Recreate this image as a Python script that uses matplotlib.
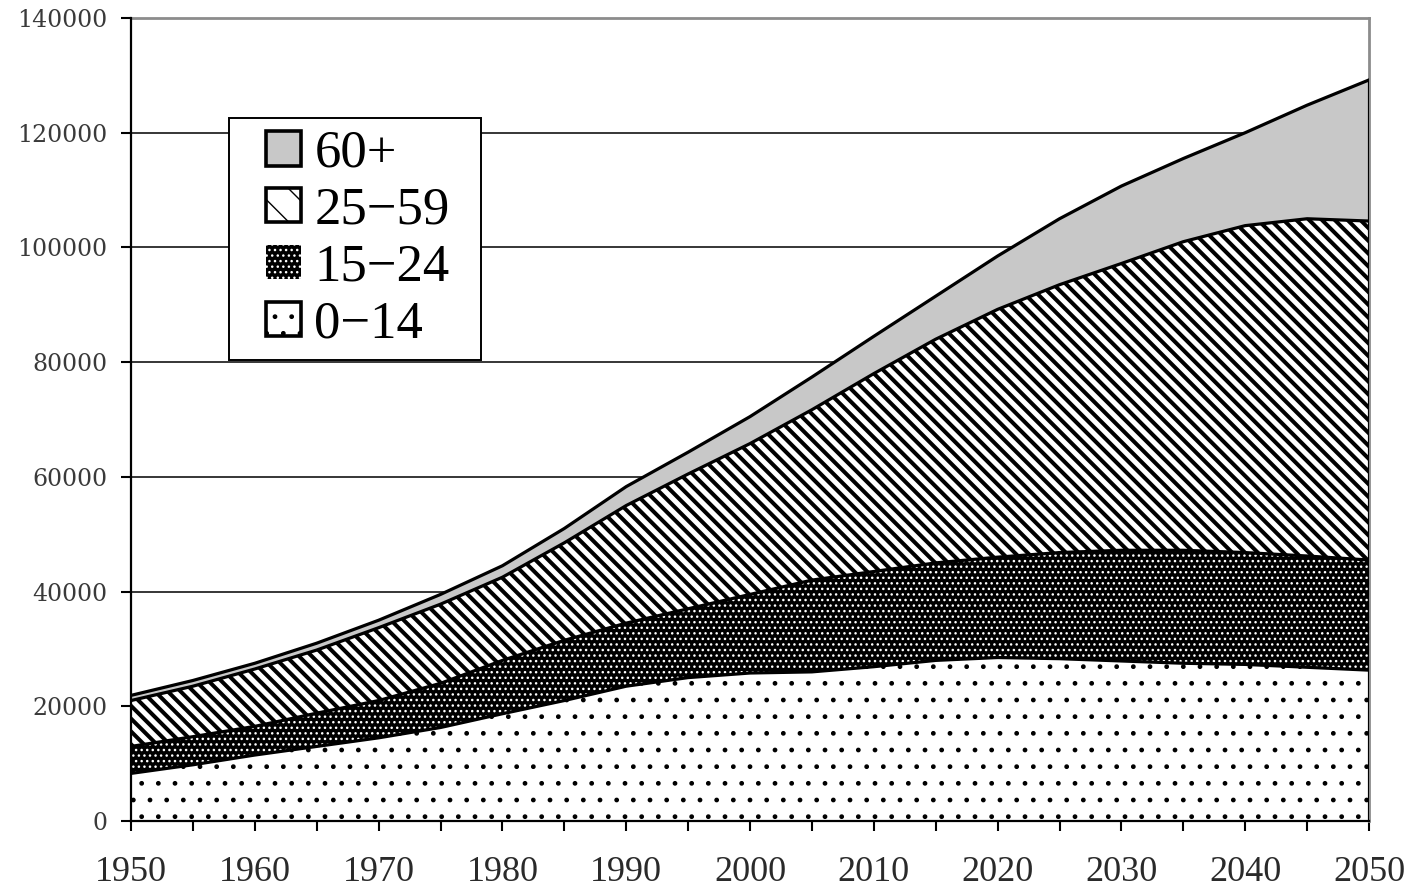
import matplotlib
matplotlib.use("Agg")
import matplotlib.pyplot as plt
from matplotlib.patches import Patch, Rectangle
from matplotlib.legend_handler import HandlerPatch
from matplotlib.collections import LineCollection
import numpy as np

# population by age group (thousands)
years = list(range(1950, 2051, 5))
age_0_14 = [8300, 9800, 11500, 13000, 14500, 16300, 18700, 21000, 23500, 25000, 25800,
            26000, 26900, 28000, 28500, 28300, 27900, 27500, 27300, 26800, 26300]
age_15_24 = [4700, 4900, 5000, 5800, 6500, 7700, 9300, 10500, 11000, 12000, 13700,
             16000, 16600, 17000, 17500, 18500, 19300, 19700, 19500, 19400, 19200]
age_25_59 = [8000, 8800, 10000, 11000, 12700, 13800, 14500, 17000, 20500, 23500, 26300,
             29700, 34500, 39000, 43200, 46700, 50000, 53800, 57000, 58800, 59100]
age_60 = [900, 1000, 1000, 1200, 1300, 1700, 2000, 2500, 3300, 3800, 4700,
          5700, 6500, 7500, 9300, 11500, 13500, 14500, 16200, 19800, 24600]
labels = ["0\u221214", "15\u221224", "25\u221259", "60+"]

yticks = list(range(0, 140001, 20000))
xticks = list(range(1950, 2051, 10))

styles = [dict(facecolor="white", edgecolor="black", hatch="."),
          dict(facecolor="black", edgecolor="white", hatch="..."),
          dict(facecolor="white", edgecolor="black", hatch="\\"),
          dict(facecolor="#c8c8c8", edgecolor="#c8c8c8", hatch=None)]

W, H = 1413, 889
fig = plt.figure(figsize=(W / 100, H / 100), dpi=100)
ax = fig.add_axes([131 / W, 1 - 821 / H, (1369 - 131) / W, (821 - 18) / H])

groups = np.array([age_0_14, age_15_24, age_25_59, age_60], dtype=float)
cum = np.cumsum(groups, axis=0)
lower = np.zeros(len(years))
fills = []
for i in range(4):
    st = dict(styles[i])
    if i == 2:
        st["hatch"] = None  # stripes drawn by hand below
    fills.append(ax.fill_between(years, lower, cum[i], lw=0, zorder=2, **st))
    lower = cum[i]

# thick diagonal stripes for 25-59, clipped to its area
bb = ax.get_window_extent()
pw, ph = bb.width, bb.height
step = 12.8 / pw
run = ph / pw
segs = [[(c, 1), (c + run, 0)] for c in np.arange(-run, 1 + step, step)]
stripes = LineCollection(segs, transform=ax.transAxes, colors="black", lw=2.9, zorder=2.5)
stripes.set_clip_path(fills[2].get_paths()[0], ax.transData)
ax.add_collection(stripes)

for i in range(4):
    ax.plot(years, cum[i], color="black", lw=2.3, zorder=3, solid_joinstyle="round")
ax.vlines(years[-1], 0, cum[-1][-1], color="black", lw=2.3, zorder=3)

ax.set_xlim(1950, 2050)
ax.set_ylim(0, 140000)
ax.set_yticks(yticks)
ax.set_yticklabels([str(v) for v in yticks])
ax.set_xticks(xticks)
ax.set_xticks(years, minor=True)

ax.yaxis.grid(True, color="black", lw=1.1)
ax.set_axisbelow(True)

for s in ["left", "bottom"]:
    ax.spines[s].set_color("black")
    ax.spines[s].set_linewidth(1.6)
    ax.spines[s].set_zorder(4)
for s in ["top", "right"]:
    ax.spines[s].set_color("#8c8c8c")
    ax.spines[s].set_linewidth(2)

ax.tick_params(axis="y", direction="out", length=7, width=1.5, pad=10,
               labelsize=17, labelcolor="#3a3a3a")
ax.tick_params(axis="x", which="both", direction="out", length=7, width=1.5)
ax.tick_params(axis="x", which="major", pad=18, labelsize=26, labelcolor="#2a2a2a")
for t in ax.get_yticklabels():
    t.set_fontfamily("DejaVu Serif")
for t in ax.get_xticklabels():
    t.set_fontfamily("Liberation Serif")


def square(legend, orig_handle, xdescent, ydescent, width, height, fontsize):
    return Rectangle((-xdescent + width - height, -ydescent), height, height)


handles = []
for i in range(4):
    st = dict(styles[i])
    if i == 3:
        st["edgecolor"] = "black"
    handles.append(Patch(lw=0 if i == 1 else 2.6, **st))
lx = (229 - 131) / 1238
ly = (821 - 118) / 803
lw_ = (481 - 229) / 1238
leg = ax.legend(handles[::-1], labels[::-1], loc="upper left",
                bbox_to_anchor=(lx, ly - 0.3, lw_, 0.3), mode="expand",
                borderaxespad=0, prop={"family": "Liberation Serif", "size": 38},
                handlelength=1.15, handleheight=0.64, handletextpad=0.25,
                labelspacing=0.17, borderpad=0.22, fancybox=False,
                edgecolor="black", framealpha=1,
                handler_map={Patch: HandlerPatch(patch_func=square)})
leg.get_frame().set_linewidth(1.4)
leg.set_zorder(5)

# thicker hatch lines for the striped legend square
p = leg.get_patches()[1]
p_draw = p.draw


def draw_thick(renderer):
    with plt.rc_context({"hatch.linewidth": 3.0}):
        p_draw(renderer)


p.draw = draw_thick

fig.savefig("out.png", dpi=100)
